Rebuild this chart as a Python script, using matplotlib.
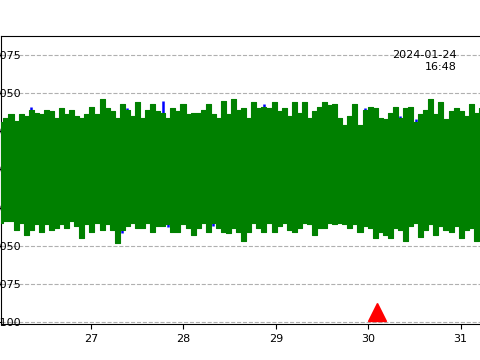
import numpy as np
import matplotlib
matplotlib.use("Agg")
import matplotlib.pyplot as plt
import matplotlib.dates as mdates

# ---- data ----
start_time = np.datetime64("2024-01-26T00:35")
sample_seconds = 4730  # envelope sampling interval

green_top = [
    0.031, 0.034, 0.036, 0.032, 0.036, 0.035, 0.039, 0.037, 0.036, 0.039, 0.038, 0.034,
    0.040, 0.036, 0.039, 0.035, 0.034, 0.036, 0.041, 0.036, 0.046, 0.040, 0.038, 0.034,
    0.043, 0.039, 0.035, 0.044, 0.034, 0.039, 0.043, 0.038,
    0.037, 0.034, 0.040, 0.038, 0.043, 0.036, 0.037, 0.037, 0.039, 0.043, 0.036, 0.034,
    0.045, 0.036, 0.046, 0.039, 0.040, 0.034, 0.044, 0.040, 0.041, 0.040, 0.044, 0.038,
    0.040, 0.035, 0.044, 0.037, 0.044, 0.034, 0.038, 0.041,
    0.044, 0.042, 0.043, 0.034, 0.029, 0.035, 0.043, 0.029, 0.039, 0.041, 0.040, 0.034,
    0.033, 0.037, 0.041, 0.034, 0.040, 0.041, 0.031, 0.036, 0.039, 0.046, 0.036, 0.044,
    0.033, 0.038, 0.040, 0.038, 0.035, 0.043, 0.037, 0.040,
]
green_bottom = [
    -0.035, -0.034, -0.034, -0.0395, -0.035, -0.043, -0.0395, -0.036, -0.041, -0.036,
    -0.0395, -0.0385, -0.036, -0.0385, -0.034, -0.037, -0.045, -0.036, -0.041, -0.035,
    -0.0395, -0.036, -0.0395, -0.048, -0.0395, -0.037, -0.035, -0.0385, -0.0385, -0.035,
    -0.041, -0.037,
    -0.037, -0.036, -0.041, -0.041, -0.036, -0.0385, -0.043, -0.0385, -0.035, -0.041,
    -0.035, -0.0385, -0.041, -0.042, -0.0385, -0.041, -0.047, -0.041, -0.035, -0.0385,
    -0.041, -0.035, -0.041, -0.037, -0.035, -0.0395, -0.041, -0.0385, -0.035, -0.036,
    -0.043, -0.0385,
    -0.0385, -0.035, -0.036, -0.035, -0.036, -0.0385, -0.036, -0.041, -0.037, -0.0385,
    -0.045, -0.041, -0.043, -0.045, -0.0385, -0.0395, -0.047, -0.037, -0.035, -0.044,
    -0.0395, -0.036, -0.043, -0.037, -0.0395, -0.041, -0.037, -0.045, -0.0395, -0.0385,
    -0.047, -0.0395,
]
# blue trace peaks that poke out from under the green trace
blue_top_idx = [6, 8, 13, 21, 23, 25, 28, 30, 32, 36, 38, 52, 60, 62, 72, 79, 82, 92]
blue_top_val = [0.041, 0.035, 0.033, 0.032, 0.034, 0.040, 0.033, 0.034, 0.045, 0.038,
                0.036, 0.043, 0.035, 0.033, 0.040, 0.035, 0.033, 0.034]
blue_bot_idx = [4, 5, 9, 24, 33, 38, 42, 51, 64, 69, 79, 83, 89, 94]
blue_bot_val = [-0.034, -0.036, -0.034, -0.042, -0.038, -0.040, -0.037, -0.037,
                -0.035, -0.036, -0.034, -0.036, -0.035, -0.034]

event_time = np.datetime64("2024-01-30T02:20")
event_value = -0.0935
annotation = "2024-01-24\n16:48"
y_ticks = [-0.100, -0.075, -0.050, -0.025, 0.000, 0.025, 0.050, 0.075]
x_start = np.datetime64("2024-01-26T00:36")
x_end = np.datetime64("2024-01-31T05:17")


def num(t):
    return mdates.date2num(np.asarray(t).astype("datetime64[s]").astype(object))


# ---- plot ----
n = len(green_top)
times = start_time + np.arange(n) * np.timedelta64(sample_seconds, "s")
times_num = num(times)

fig = plt.figure(figsize=(4.8, 3.6), dpi=100)
ax = fig.add_axes([0.002, 0.1, 1.0, 0.8])

ax.vlines(num(times[blue_top_idx]), 0, blue_top_val, color="blue", lw=1.8, zorder=2)
ax.vlines(num(times[blue_bot_idx]), 0, blue_bot_val, color="blue", lw=1.8, zorder=2)
ax.fill_between(times_num, green_bottom, green_top, step="mid", color="green", lw=0.8,
                edgecolor="green", zorder=3)

ax.plot([num(event_time)], [event_value], marker="^", color="red", markersize=12.5,
        ls="none", zorder=5)

ax.set_xlim(num(x_start), num(x_end))
ax.set_ylim(-0.1013, 0.0874)
ax.set_yticks(y_ticks)
ax.yaxis.set_major_formatter(matplotlib.ticker.FormatStrFormatter("%.3f"))
ax.xaxis.set_major_locator(mdates.DayLocator())
ax.xaxis.set_major_formatter(mdates.DateFormatter("%d"))
ax.grid(axis="y", ls="--", color="#b0b0b0", lw=0.8, zorder=0)
ax.set_axisbelow(True)
ax.tick_params(labelsize=8)
ax.tick_params(axis="y", pad=-18)
ax.spines["right"].set_visible(False)

ax.text(0.95, 0.95, annotation, transform=ax.transAxes, ha="right", va="top", fontsize=8)

fig.savefig("out.png", dpi=100)
